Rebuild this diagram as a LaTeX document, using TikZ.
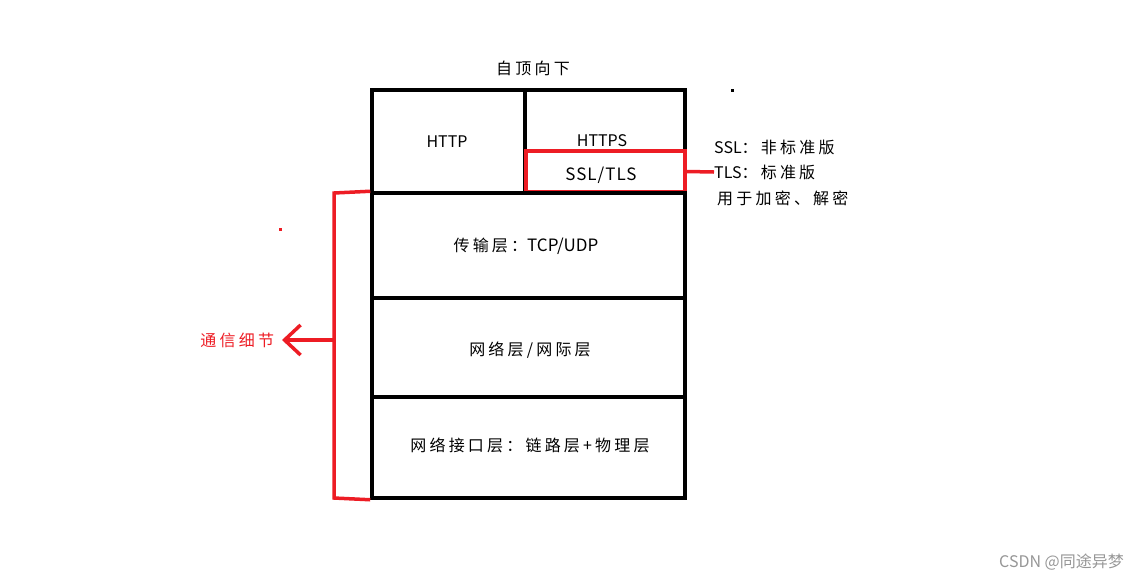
\documentclass[tikz,border=0pt]{standalone}
\usepackage{fontspec}
\setmainfont{Noto Sans CJK SC}
\newfontfamily\spaced[LetterSpace=20]{Noto Sans CJK SC}
\newcommand\hz[1]{{\spaced #1}}
\usetikzlibrary{arrows.meta}

\tikzset{
  layer/.style={draw, line width=3.5pt, minimum width=313pt, inner sep=0pt},
  redbox/.style={draw=redline, line width=3.5pt, inner sep=0pt},
  lbl/.style={font=\fontsize{16}{19}\selectfont, inner sep=0pt},
  cjk/.style={font=\fontsize{16}{19}\selectfont\spaced, inner sep=0pt},
  note/.style={lbl, anchor=west},
}
\definecolor{redline}{RGB}{237,28,36}
\definecolor{mark}{RGB}{150,150,150}

\begin{document}
\begin{tikzpicture}[x=1pt, y=-1pt, >={Straight Barb[length=16pt, width=30pt]}]
  \useasboundingbox (0,0) rectangle (1139,582);

  % Title
  \node[cjk] (title) at (533,68) {自顶向下};

  % Application layer
  \node[draw, line width=3.5pt, minimum width=153pt, minimum height=103pt] (http) at (448.5,141.5) {};
  \node[draw, line width=3.5pt, minimum width=160pt, minimum height=103pt] (https) at (605,141.5) {};
  \node[lbl] (httptxt) at (447,142) {HTTP};
  \node[lbl] (httpstxt) at (602,141) {HTTPS};
  \node[redbox, minimum width=159pt, minimum height=41pt] (ssl) at (605.5,171.5) {};
  \node[lbl, font=\fontsize{17}{19}\selectfont\addfontfeature{LetterSpace=6}] (ssltxt) at (601,175) {SSL/TLS};

  % Lower layers
  \node[layer, minimum height=105pt] (trans) at (528.5,245.5) {};
  \node[layer, minimum height=99pt] (net) at (528.5,347.5) {};
  \node[layer, minimum height=101pt] (link) at (528.5,447.5) {};
  \node[lbl] at (526,246) {\hz{传输层：}\fontsize{17}{19}\selectfont TCP/UDP};
  \node[cjk] at (530,350) {网络层/网际层};
  \node[cjk] at (530,445) {网络接口层：链路层+物理层};

  % Notes on SSL/TLS
  \node[note] (sslnote) at (714,147) {SSL\hz{：非标准版}};
  \node[note] (tlsnote) at (714,172) {TLS\hz{：标准版}};
  \node[note] (usenote) at (717,198) {\hz{用于加密、解密}};
  \draw[redline, line width=3.5pt] (ssl.east) -- (tlsnote.west);

  % Communication details
  \coordinate (btop) at (334,193);
  \coordinate (bbot) at (334,498);
  \coordinate (bmid) at (334,340);
  \node[cjk, anchor=east, outer xsep=8pt, text=redline] (detail) at (282,340) {通信细节};
  \draw[redline, line width=3.5pt] (trans.north west) -- (btop) -- (bbot) -- (link.south west);
  \draw[redline, line width=3.5pt, ->] (bmid) -- (detail.east);

  % stray dots
  \fill[redline] (278.5,227.5) rectangle ++(3,3);
  \fill (730.5,88.5) rectangle ++(3,3);

  % Watermark
  \node[lbl, anchor=east, text=mark] (wm) at (1124,562) {CSDN @同途异梦};
\end{tikzpicture}
\end{document}
